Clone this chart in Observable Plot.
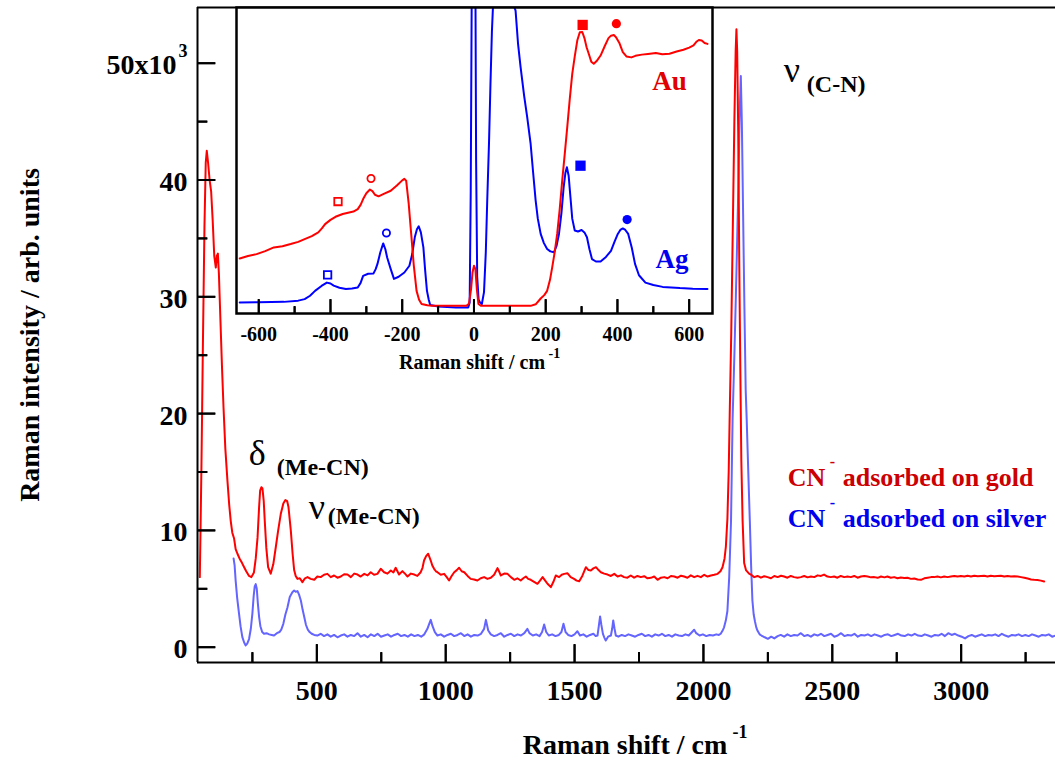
<!DOCTYPE html>
<html><head><meta charset="utf-8">
<script src="https://cdn.jsdelivr.net/npm/d3@7"></script>
<script src="https://cdn.jsdelivr.net/npm/@observablehq/plot@0.6"></script>
<style>
body{margin:0;background:#fff;}
#wrap{position:relative;width:1055px;height:760px;overflow:hidden;background:#fff;}
#main{position:absolute;left:0;top:0;width:1055px;}
#inset{position:absolute;left:216px;top:4px;width:516px;}
#mainTicks{position:absolute;left:0;top:0;width:1055px;pointer-events:none;}
#insetTicks{position:absolute;left:216px;top:4px;width:516px;pointer-events:none;}
svg{max-width:none !important;}
</style></head><body><div id="wrap"><div id="main"></div><div id="inset"></div><div id="mainTicks"></div><div id="insetTicks"></div></div>
<script>
// ---------- Data (Raman shift in cm^-1, intensity in 10^3 counts) ----------
const mainShiftDomain = [37, 3366];
const mainIntensityDomain = [-1.31, 54.77];
const mainMajorTicksX = [500, 1000, 1500, 2000, 2500, 3000];
const mainMinorTicksX = [250, 750, 1250, 1750, 2250, 2750, 3250];
const mainMajorTicksY = [0, 10, 20, 30, 40, 50];
const mainMinorTicksY = [5, 15, 25, 35, 45];
const mainTickLabelsY = [0, 10, 20, 30, 40];

const goldMain = [[46,6.0],[52,15],[58,26],[64,36],[69,41.5],[73,42.5],[78,41.5],[84,40],[90,39],[96,36.5],[102,33.5],[108,32.5],[112,33.5],[116,33.7],[120,32],[126,28],[132,24],[138,20.5],[145,17],[153,14.3],[160,12.2],[166,10.8],[172,9.8],[179,9.3],[185,8.4],[192,8.0],[200,7.6],[210,7.2],[218,6.85],[226,6.5],[237,6.1],[246,6.0],[256,6.4],[263,7.6],[270,9.4],[276,12],[280,13.4],[285,13.7],[289,13.6],[294,12.5],[298,10.8],[304,8.5],[311,6.85],[321,6.3],[331,7.1],[341,8.6],[350,10.0],[360,11.4],[370,12.3],[378,12.6],[385,12.5],[390,12.0],[399,10.0],[406,8.0],[412,6.6],[418,6.1],[425,5.85],[434,5.9],[444,5.57],[454,5.9],[464,6.0],[476,5.85],[490,5.77],[502,6.05],[515,6.0],[528,6.2],[541,6.28],[554,6.0],[567,6.14],[580,5.95],[593,6.05],[606,6.25],[619,6.22],[632,6.0],[645,6.3],[658,6.22],[670,6.05],[684,6.28],[697,6.15],[709,6.42],[722,6.2],[735,6.28],[748,6.71],[761,6.42],[774,6.3],[787,6.57],[797,6.4],[806,6.8],[819,6.22],[832,6.51],[842,6.3],[852,6.05],[865,6.3],[878,6.22],[890,6.1],[903,6.42],[910,6.8],[916,7.42],[924,7.8],[932,8.0],[942,7.42],[948,7.0],[955,6.71],[962,6.5],[968,6.42],[981,6.2],[994,6.28],[1004,6.0],[1013,5.71],[1023,6.1],[1033,6.42],[1043,6.6],[1052,6.8],[1062,6.5],[1072,6.42],[1085,6.1],[1097,5.85],[1110,5.8],[1123,5.71],[1136,5.9],[1149,6.0],[1162,5.85],[1175,5.94],[1188,6.2],[1201,6.77],[1207,6.5],[1214,6.14],[1227,6.3],[1240,6.28],[1253,6.0],[1266,5.77],[1278,5.9],[1291,5.71],[1301,5.9],[1311,6.05],[1320,5.85],[1330,5.77],[1343,5.6],[1356,5.43],[1366,5.7],[1376,6.0],[1386,5.7],[1395,5.43],[1408,5.14],[1418,5.6],[1427,6.14],[1440,6.0],[1450,6.2],[1460,6.28],[1472,6.34],[1485,6.0],[1498,5.85],[1508,5.7],[1518,5.65],[1530,6.1],[1544,6.85],[1554,6.6],[1563,6.57],[1573,6.75],[1583,6.85],[1593,6.6],[1602,6.42],[1615,6.3],[1628,6.22],[1641,6.1],[1654,6.28],[1667,6.05],[1680,6.15],[1692,6.0],[1705,5.95],[1718,6.14],[1731,5.95],[1744,6.1],[1757,6.0],[1770,6.08],[1783,5.9],[1796,5.94],[1809,6.05],[1822,5.77],[1835,5.95],[1848,6.0],[1861,5.9],[1874,6.1],[1887,6.05],[1900,5.95],[1913,6.12],[1925,6.05],[1938,5.95],[1951,6.15],[1964,6.0],[1977,6.11],[1990,6.0],[2003,6.2],[2016,6.05],[2029,6.14],[2042,6.2],[2055,6.28],[2066,6.5],[2074,6.85],[2082,7.6],[2087,8.6],[2093,11],[2098,15],[2102,20],[2108,27],[2114,36],[2120,45],[2125,51],[2128,52.9],[2131,51],[2135,44],[2139,33],[2143,24],[2147,16],[2152,10.8],[2158,7.2],[2165,6.6],[2177,6.3],[2184,6.22],[2197,6.0],[2210,6.1],[2223,5.95],[2236,6.08],[2249,6.0],[2262,5.9],[2275,6.1],[2288,6.0],[2301,6.12],[2313,6.05],[2326,5.95],[2339,6.1],[2352,6.0],[2365,5.95],[2378,6.0],[2391,6.1],[2404,5.98],[2417,6.05],[2430,6.0],[2443,6.15],[2456,6.1],[2468,6.22],[2481,6.05],[2494,6.0],[2507,6.05],[2520,5.95],[2533,6.1],[2546,6.0],[2559,6.05],[2572,6.0],[2585,6.1],[2598,5.95],[2611,6.05],[2624,6.1],[2637,6.05],[2650,5.98],[2663,6.0],[2676,5.94],[2689,6.05],[2702,5.98],[2714,6.05],[2727,5.95],[2740,6.0],[2753,5.9],[2766,5.96],[2779,5.92],[2792,5.94],[2805,5.85],[2818,5.88],[2831,5.8],[2844,5.77],[2857,5.9],[2870,5.95],[2883,6.0],[2895,6.0],[2908,6.05],[2921,5.98],[2934,6.05],[2947,6.0],[2960,6.05],[2973,6.1],[2986,6.05],[2999,6.1],[3012,6.05],[3025,6.11],[3038,6.05],[3051,6.12],[3064,6.08],[3077,6.1],[3089,6.11],[3102,6.05],[3115,6.12],[3128,6.08],[3141,6.1],[3154,6.11],[3167,6.05],[3180,6.1],[3193,6.05],[3206,6.08],[3219,6.05],[3232,6.0],[3245,5.95],[3258,5.88],[3271,5.8],[3283,5.77],[3296,5.75],[3309,5.7],[3322,5.63]];

const silverMain = [[177,7.6],[181,7.0],[185,5.7],[191,4.2],[198,2.9],[204,1.8],[211,0.86],[218,0.4],[224,0.15],[230,0.3],[237,0.7],[244,1.6],[250,2.9],[255,4.4],[259,5.2],[263,5.4],[267,5.0],[271,3.8],[276,2.6],[281,1.8],[288,1.3],[295,1.15],[305,1.2],[315,1.1],[325,1.05],[334,1.0],[345,1.2],[355,1.3],[362,1.5],[370,2.0],[378,2.8],[386,3.4],[395,4.3],[405,4.7],[412,4.85],[418,4.75],[425,4.8],[431,4.5],[438,4.0],[445,3.2],[451,2.6],[458,1.9],[465,1.5],[472,1.3],[480,1.15],[490,1.05],[502,1.0],[515,1.15],[528,0.95],[541,1.1],[554,0.9],[567,1.05],[580,0.85],[593,1.0],[606,1.1],[619,0.9],[632,1.05],[645,0.95],[658,1.2],[671,0.9],[684,1.05],[697,0.85],[710,1.1],[723,0.95],[736,1.15],[749,0.9],[762,1.0],[775,1.1],[788,0.9],[801,1.05],[814,1.15],[827,0.95],[840,1.05],[853,0.9],[866,1.1],[879,0.95],[892,1.05],[905,0.9],[917,1.1],[929,1.57],[936,2.0],[942,2.34],[949,1.8],[958,1.29],[968,1.0],[981,1.1],[994,0.9],[1007,1.05],[1020,1.15],[1033,0.95],[1046,1.05],[1059,1.2],[1072,0.95],[1085,1.1],[1098,0.9],[1111,1.05],[1124,1.0],[1137,1.15],[1149,1.57],[1156,2.34],[1165,1.43],[1175,1.1],[1188,0.95],[1201,1.05],[1214,1.2],[1227,0.9],[1240,1.05],[1253,1.15],[1266,0.95],[1279,1.1],[1292,1.0],[1305,1.2],[1317,1.57],[1325,1.2],[1338,1.0],[1351,1.1],[1364,0.95],[1374,1.3],[1382,1.94],[1390,1.3],[1400,1.0],[1413,1.1],[1426,0.95],[1439,1.05],[1449,1.3],[1457,2.0],[1465,1.3],[1475,1.05],[1488,0.95],[1500,1.1],[1511,1.37],[1521,1.0],[1534,1.1],[1547,0.9],[1560,1.05],[1573,1.15],[1582,0.95],[1589,1.0],[1594,1.8],[1599,2.63],[1604,1.9],[1610,1.14],[1616,0.8],[1621,0.57],[1630,0.9],[1641,1.0],[1646,1.6],[1650,2.29],[1655,1.6],[1660,1.0],[1670,0.9],[1683,1.05],[1696,0.95],[1709,1.1],[1722,1.0],[1735,0.9],[1748,1.05],[1761,1.15],[1774,0.95],[1787,1.05],[1800,0.9],[1813,1.1],[1826,1.0],[1839,1.15],[1852,0.95],[1865,1.05],[1878,0.9],[1891,1.1],[1904,1.0],[1917,0.95],[1930,1.1],[1943,1.0],[1956,1.3],[1964,1.49],[1972,1.2],[1985,1.0],[1998,1.1],[2011,0.95],[2024,1.05],[2037,1.0],[2050,1.1],[2060,1.05],[2067,1.15],[2074,1.4],[2080,1.7],[2087,2.3],[2093,3.1],[2100,6.0],[2107,10.8],[2113,19.4],[2120,25],[2128,32],[2135,39],[2141,46],[2145,48.9],[2149,45],[2154,37],[2159,29],[2164,22],[2168,19.4],[2174,15],[2180,10.8],[2185,7],[2190,4.0],[2195,2.8],[2200,2.2],[2205,1.7],[2210,1.4],[2218,1.1],[2225,1.0],[2238,0.85],[2250,0.72],[2263,0.9],[2275,0.75],[2288,0.95],[2300,1.05],[2313,0.9],[2326,1.1],[2339,0.95],[2352,1.05],[2365,1.0],[2378,1.2],[2391,0.95],[2404,1.05],[2417,0.9],[2430,1.1],[2443,1.0],[2456,1.15],[2469,0.95],[2482,1.05],[2495,1.15],[2508,0.9],[2521,1.0],[2534,1.2],[2547,0.95],[2560,1.05],[2573,1.0],[2586,1.15],[2599,0.9],[2612,1.05],[2625,1.0],[2638,1.1],[2651,0.95],[2664,1.1],[2677,1.0],[2690,0.9],[2703,1.05],[2716,1.1],[2729,0.95],[2742,1.05],[2755,1.15],[2768,1.0],[2781,0.95],[2794,1.1],[2807,1.0],[2820,1.15],[2833,1.0],[2846,0.95],[2859,1.1],[2872,1.0],[2885,0.9],[2898,1.05],[2911,1.0],[2924,1.15],[2937,0.95],[2950,1.2],[2963,1.05],[2976,1.15],[2989,1.0],[3002,0.9],[3015,0.75],[3028,0.95],[3041,1.05],[3054,0.9],[3067,1.0],[3080,1.1],[3093,0.95],[3106,1.05],[3119,1.0],[3132,1.1],[3145,0.95],[3158,1.15],[3171,1.0],[3184,0.9],[3197,1.05],[3210,1.0],[3223,1.1],[3236,0.95],[3249,1.05],[3262,0.95],[3275,1.1],[3288,1.0],[3301,0.9],[3314,1.05],[3327,1.0],[3340,1.1],[3353,0.9],[3366,1.0]];

// Inset (arbitrary intensity units, 0..100 = inset frame)
const insetShiftDomain = [-662, 665];
const insetIntensityDomain = [0, 100];
const insetMajorTicks = [-600, -400, -200, 0, 200, 400, 600];
const insetMinorTicks = [-500, -300, -100, 100, 300, 500];

const goldInset = [[-653,18.0],[-630,18.8],[-606,19.4],[-582,20.4],[-558,21.6],[-534,22.0],[-511,22.7],[-490,23.4],[-472,24.3],[-452,25.3],[-434,26.5],[-424,27.8],[-415,29.2],[-400,30.6],[-386,31.6],[-366,32.5],[-348,33.0],[-336,33.3],[-324,34.1],[-316,35.5],[-309,37.4],[-300,39.3],[-290,40.5],[-283,40.0],[-276,38.8],[-266,38.3],[-250,39.2],[-232,40.1],[-215,41.8],[-200,43.5],[-194,44.0],[-189,43.4],[-182,36],[-175,26.0],[-168,16],[-160,7.4],[-153,4.5],[-146,3.1],[-130,2.7],[-117,2.5],[-60,2.5],[-21,2.5],[-14,3.2],[-8,8],[-4,13.5],[0,15.6],[4,14.5],[8,8],[12.5,3.1],[20,2.5],[27,2.5],[100,2.5],[158,2.5],[172,3.0],[186,4.9],[196,6],[204,7.4],[212,11],[218,15.0],[225,20],[232,26.0],[239,34],[246,43.4],[253,52],[260,60.8],[267,70],[274,78.3],[281,84],[288,89.2],[295,91.9],[302,92],[308,90],[314,87],[320,84.9],[327,82.3],[334,81.6],[342,82.5],[353,84.3],[365,87.5],[375,90],[382,90.8],[390,91],[396,90.3],[405,88.5],[415,85.4],[425,84],[439,83.7],[450,84.2],[468,84.6],[485,84.8],[507,85.1],[525,84.7],[545,84.9],[565,85.6],[584,86.2],[600,86.9],[612,87.6],[620,88.8],[627,89.4],[635,89.2],[643,88.4],[651,88.1]];

const silverInset = [[-653,3.6],[-600,3.7],[-530,3.8],[-490,4.2],[-472,4.7],[-457,5.8],[-443,7.4],[-425,9.0],[-410,10.1],[-400,9.8],[-391,9.1],[-375,8.4],[-357,8.0],[-340,8.2],[-324,8.5],[-316,10],[-309,12.3],[-295,13.0],[-280,13.1],[-274,14.5],[-269,16.2],[-261,20],[-253,22.9],[-247,21],[-242,18.3],[-232,14.5],[-223,11.3],[-210,12],[-194,13.4],[-180,15.6],[-172,19.5],[-165,24.9],[-159,27.5],[-154,28.5],[-148,26.5],[-141,21.6],[-136,14],[-131,7.4],[-126,4.5],[-122,2.8],[-100,2.3],[-50,2.0],[-16,2.0],[-12,3.5],[-9,40],[-6,110],[0,130],[4,110],[6,50],[9,12],[13,4.5],[17,3.6],[22,3.1],[28,7],[33,20],[37,36.9],[42,56],[46,75],[50,92],[54,103],[60,120],[90,130],[113,100],[116,99],[123,88],[130,80.5],[140,71],[148.5,64.1],[158,55.4],[165,46],[172,36.9],[178,31],[186,26.0],[195,23],[204,21.1],[213,20.3],[223,20.0],[230,22],[237,26.0],[244,33],[250,41.2],[255,46],[259,47.8],[264,45],[269,38],[274,31],[281,27.1],[290,26.8],[300,27.3],[308,26.5],[315,24.9],[322,21],[329,17.8],[340,17.0],[353,17.0],[368,18.5],[382,20.5],[392,23.5],[401,26.0],[408,27.3],[415,27.8],[422,27.3],[430,26.0],[440,21.5],[449,16.2],[460,12.5],[478,10.1],[500,9.3],[526,8.7],[550,8.5],[574,8.3],[610,8.1],[651,8.0]];

const insetMarkers = [
  {metal: "Au", shift: 303, level: 94.3, shape: "square", filled: true},
  {metal: "Au", shift: 397, level: 94.7, shape: "circle", filled: true},
  {metal: "Au", shift: -379, level: 36.6, shape: "square", filled: false},
  {metal: "Au", shift: -287, level: 44.1, shape: "circle", filled: false},
  {metal: "Ag", shift: -408, level: 12.6, shape: "square", filled: false},
  {metal: "Ag", shift: -244, level: 26.3, shape: "circle", filled: false},
  {metal: "Ag", shift: 297, level: 48.3, shape: "square", filled: true},
  {metal: "Ag", shift: 427, level: 30.7, shape: "circle", filled: true}
];
const insetMetalLabels = [{metal: "Au", shift: 545, level: 73.1}, {metal: "Ag", shift: 552, level: 15.0}];

const peakLabels = [
  {sym: "δ", sub: "(Me-CN)", shift: 236, level: 15.6},
  {sym: "ν", sub: "(Me-CN)", shift: 469, level: 11.0},
  {sym: "ν", sub: "(C-N)", shift: 2312, level: 48.4}
];
const legendItems = [
  {metal: "Au", text: "adsorbed on gold", shift: 2327, level: 13.84},
  {metal: "Ag", text: "adsorbed on silver", shift: 2327, level: 10.27}
];

// ---------- Styles ----------
const FONT = "'Liberation Serif', 'Times New Roman', serif";
const RED = "#ff0000", LIGHTBLUE = "#6464ff", BLUE = "#0000ff";
const metalColor = {Au: RED, Ag: BLUE};
const legendColor = {Au: "#cc0000", Ag: "#0000ee"};
const labelColor = {Au: "#e00000", Ag: "#0000ee"};
const subOffsets = [[28, 10], [19, 5], [23, 10]];
const MAIN_W = 1055 - 197, MAIN_H = 760 - 7 - 98;   // main frame size (px)
const INSET_H = 381 - 3 - 72;                        // inset frame height (px)
const UX = (mainShiftDomain[1] - mainShiftDomain[0]) / MAIN_W;      // data units per px
const UY = (mainIntensityDomain[1] - mainIntensityDomain[0]) / MAIN_H;
const UIY = (insetIntensityDomain[1] - insetIntensityDomain[0]) / INSET_H;
const x0 = mainShiftDomain[0], y0 = mainIntensityDomain[0], iy0 = insetIntensityDomain[0];

const X = d => d[0], Y = d => d[1];

// tick segments (inward ticks), derived from the tick values and the axis origin
const segY = (ticks, len, tag) => ticks.flatMap(t => [{id: tag + t, x: x0, y: t}, {id: tag + t, x: x0 + len * UX, y: t}]);
const segX = (ticks, len, tag, base, unit) => ticks.flatMap(t => [{id: tag + t, x: t, y: base}, {id: tag + t, x: t, y: base + len * unit}]);
const mainTickSegs = [
  ...segY(mainMajorTicksY, 18, "YM"), ...segY(mainMinorTicksY, 10, "Ym"),
  ...segX(mainMajorTicksX, 18, "XM", y0, UY), ...segX(mainMinorTicksX, 10, "Xm", y0, UY)
];
const insetTickSegs = [
  ...segX(insetMajorTicks, 14, "IM", iy0, UIY), ...segX(insetMinorTicks, 7, "Im", iy0, UIY)
];
const tickLineMarks = segs => [
  Plot.line(segs, {x: "x", y: "y", z: "id", stroke: "black", strokeWidth: 2, strokeLinecap: "butt"})
];

const baseStyle = {fontFamily: FONT, fontWeight: "bold", background: "transparent", overflow: "visible", color: "black"};
const mainLayout = {width: 1055, height: 760, marginLeft: 197, marginRight: 0, marginTop: 7, marginBottom: 98};
const insetLayout = {width: 516, height: 381, marginLeft: 20, marginRight: 20, marginTop: 3, marginBottom: 72};

const mainPlot = Plot.plot({
  ...mainLayout,
  style: baseStyle,
  x: {domain: mainShiftDomain},
  y: {domain: mainIntensityDomain},
  marks: [
    Plot.line(silverMain, {x: X, y: Y, stroke: LIGHTBLUE, strokeWidth: 2}),
    Plot.line(goldMain, {x: X, y: Y, stroke: RED, strokeWidth: 2}),
    Plot.ruleX([x0], {strokeWidth: 2, stroke: "black"}),
    Plot.ruleY([y0], {strokeWidth: 2, stroke: "black"}),
    Plot.ruleY([mainIntensityDomain[1]], {strokeWidth: 2, stroke: "black"}),
    ...tickLineMarks(mainTickSegs),
    // tick labels
    Plot.axisY(mainTickLabelsY, {tickSize: 0, tickPadding: 10, fontSize: 28, dy: 2, label: null, tickFormat: d => String(d)}),
    Plot.text([50], {y: d => d, frameAnchor: "left", text: () => "50x10", textAnchor: "end", dx: -21, dy: 2, fontSize: 28}),
    Plot.text([50], {y: d => d, frameAnchor: "left", text: () => "3", textAnchor: "end", lineAnchor: "bottom", dx: -10, dy: -6, fontSize: 18}),
    Plot.axisX(mainMajorTicksX, {tickSize: 0, tickPadding: 18, fontSize: 28, label: null, tickFormat: d => String(d)}),
    // axis titles
    Plot.text(["Raman shift / cm"], {frameAnchor: "bottom", text: d => d, dx: -1.5, dy: 91, lineAnchor: "bottom", fontSize: 28}),
    Plot.text(["-1"], {frameAnchor: "bottom", text: d => d, dx: 106, dy: 75.5, textAnchor: "start", lineAnchor: "bottom", fontSize: 18}),
    Plot.text(["Raman intensity / arb. units"], {frameAnchor: "left", text: d => d, textAnchor: "middle", dx: -167, rotate: -90, fontSize: 28}),
    // peak labels
    Plot.text(peakLabels, {x: "shift", y: "level", text: "sym", textAnchor: "start", lineAnchor: "bottom", fontSize: 36, fontWeight: "normal"}),
    ...peakLabels.map((p, i) => Plot.text([p], {x: "shift", y: "level", text: "sub", textAnchor: "start", lineAnchor: "bottom", dx: subOffsets[i][0], dy: subOffsets[i][1], fontSize: 24})),
    // legend
    ...legendItems.flatMap(l => [
      Plot.text([l], {x: "shift", y: "level", text: () => "CN", textAnchor: "start", lineAnchor: "bottom", fontSize: 26, fill: legendColor[l.metal]}),
      Plot.text([l], {x: "shift", y: "level", text: () => "-", textAnchor: "start", lineAnchor: "bottom", dx: 42, dy: -19, fontSize: 16, fill: legendColor[l.metal]}),
      Plot.text([l], {x: "shift", y: "level", text: "text", textAnchor: "start", lineAnchor: "bottom", dx: 55, fontSize: 26, fill: legendColor[l.metal]})
    ])
  ]
});
document.getElementById("main").appendChild(mainPlot);

const insetPlot = Plot.plot({
  ...insetLayout,
  style: baseStyle,
  x: {domain: insetShiftDomain},
  y: {domain: insetIntensityDomain, axis: null},
  marks: [
    Plot.frame({fill: "white"}),
    Plot.line(silverInset, {x: X, y: Y, stroke: BLUE, strokeWidth: 2, clip: true}),
    Plot.line(goldInset, {x: X, y: Y, stroke: RED, strokeWidth: 2, clip: true}),
    ...insetMarkers.map(m => Plot.dot([m], {
      x: "shift", y: "level", symbol: m.shape,
      r: m.shape === "square" ? (m.filled ? 5.8 : 4.2) : (m.filled ? 4.6 : 3.6),
      fill: m.filled ? metalColor[m.metal] : "none",
      stroke: m.filled ? "none" : metalColor[m.metal],
      strokeWidth: 1.8
    })),
    ...insetMetalLabels.map(l => Plot.text([l], {x: "shift", y: "level", text: "metal", textAnchor: "middle", lineAnchor: "bottom", fontSize: 27, fill: labelColor[l.metal]})),
    Plot.frame({stroke: "black", strokeWidth: 2.5}),
    ...tickLineMarks(insetTickSegs),
    Plot.axisX(insetMajorTicks, {tickSize: 0, tickPadding: 13, fontSize: 20, label: null, tickFormat: d => String(d)}),
    Plot.text(["Raman shift / cm"], {frameAnchor: "bottom", text: d => d, dx: -2.5, dy: 55, lineAnchor: "bottom", fontSize: 20}),
    Plot.text(["-1"], {frameAnchor: "bottom", text: d => d, dx: 74, dy: 44, textAnchor: "start", lineAnchor: "bottom", fontSize: 14})
  ]
});
document.getElementById("inset").appendChild(insetPlot);

// Transparent tick overlays on top (same scales), so the inward ticks are always visible
const mainTickOverlay = Plot.plot({
  ...mainLayout, style: baseStyle,
  x: {domain: mainShiftDomain, axis: null},
  y: {domain: mainIntensityDomain, axis: null},
  marks: [
    Plot.ruleY(mainMajorTicksY, {y: d => d, x1: x0, x2: x0 + 18 * UX, strokeWidth: 2, stroke: "black"}),
    Plot.ruleY(mainMinorTicksY, {y: d => d, x1: x0, x2: x0 + 10 * UX, strokeWidth: 2, stroke: "black"}),
    Plot.ruleX(mainMajorTicksX, {x: d => d, y1: y0, y2: y0 + 18 * UY, strokeWidth: 2, stroke: "black"}),
    Plot.ruleX(mainMinorTicksX, {x: d => d, y1: y0, y2: y0 + 10 * UY, strokeWidth: 2, stroke: "black"})
  ]
});
document.getElementById("mainTicks").appendChild(mainTickOverlay);

const insetTickOverlay = Plot.plot({
  ...insetLayout, style: baseStyle,
  x: {domain: insetShiftDomain, axis: null},
  y: {domain: insetIntensityDomain, axis: null},
  marks: [
    Plot.ruleX(insetMajorTicks, {x: d => d, y1: iy0, y2: iy0 + 14 * UIY, strokeWidth: 2, stroke: "black"}),
    Plot.ruleX(insetMinorTicks, {x: d => d, y1: iy0, y2: iy0 + 7 * UIY, strokeWidth: 2, stroke: "black"})
  ]
});
document.getElementById("insetTicks").appendChild(insetTickOverlay);
</script>
</body></html>
